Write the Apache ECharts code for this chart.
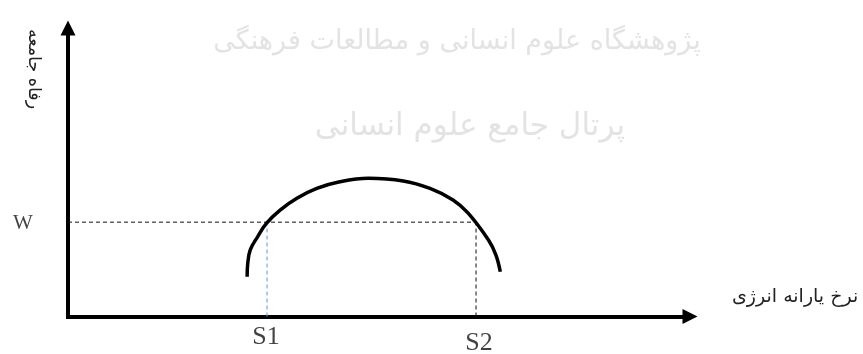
<!DOCTYPE html>
<html>
<head>
<meta charset="utf-8">
<title>رفاه جامعه و نرخ یارانه انرژی</title>
<script src="https://cdn.jsdelivr.net/npm/echarts@6/dist/echarts.min.js"></script>
<style>
  html, body { margin: 0; padding: 0; background: #fff; }
  #main { width: 863px; height: 354px; }
</style>
</head>
<body>
<div id="main"></div>
<script>
// curve of welfare against energy subsidy rate
var curveX = [28.8, 28.9, 29.3, 30.5, 31.9, 34.1, 36.8, 40.0, 43.7, 48.3, 53.9, 58.2, 61.9, 64.3, 67.6, 68.8, 69.5];
var curveY = [13.8, 18.4, 23.1, 27.7, 32.3, 36.9, 41.0, 44.4, 46.7, 47.9, 47.0, 44.4, 40.4, 35.9, 26.5, 21.3, 15.5];

// marked levels
var wLevel = 32.7;
var s1 = 32.0;
var s2 = 65.6;
var pointNames = ['W', 'S1', 'S2'];

var xName = 'نرخ یارانه انرژی';
var yName = 'رفاه جامعه';
var watermark = ['پژوهشگاه علوم انسانی و مطالعات فرهنگی', 'پرتال جامع علوم انسانی'];

var chart = echarts.init(document.getElementById('main'), null, { renderer: 'canvas' });

var curveData = curveX.map(function (x, i) { return [x, curveY[i]]; });
var labelData = [
  { value: [0, wLevel, pointNames[0]], label: { offset: [-45, 1], fontSize: 21 } },
  { value: [s1, 0, pointNames[1]], label: { offset: [-1, 21] } },
  { value: [s2, 0, pointNames[2]], label: { offset: [3, 26.5] } }
];

var option = {
  backgroundColor: '#fff',
  animation: false,
  grid: {
    left: 68,
    top: 28,
    width: 622,
    height: 288.5
  },
  xAxis: {
    type: 'value',
    min: 0,
    max: 100,
    name: xName,
    nameLocation: 'end',
    nameGap: 42,
    nameTextStyle: {
      fontFamily: 'DejaVu Sans',
      fontSize: 19,
      color: '#222',
      align: 'left',
      verticalAlign: 'bottom',
      padding: [0, 0, 10, 0]
    },
    axisLine: {
      show: true,
      symbol: ['none', 'triangle'],
      symbolSize: [15, 15],
      lineStyle: { color: '#000', width: 4, cap: 'square' }
    },
    axisTick: { show: false },
    axisLabel: { show: false },
    splitLine: { show: false }
  },
  yAxis: {
    type: 'value',
    min: 0,
    max: 100,
    axisLine: {
      show: true,
      symbol: ['none', 'triangle'],
      symbolSize: [15, 15],
      lineStyle: { color: '#000', width: 4, cap: 'square' }
    },
    axisTick: { show: false },
    axisLabel: { show: false },
    splitLine: { show: false }
  },
  graphic: [
    // faint watermark of the source
    {
      type: 'text', x: 457, y: 42, z: -10, silent: true,
      style: { text: watermark[0], fontFamily: 'DejaVu Sans', fontSize: 27, fill: '#e3e3e3', align: 'center', verticalAlign: 'middle' }
    },
    {
      type: 'text', x: 470, y: 127, z: -10, silent: true,
      style: { text: watermark[1], fontFamily: 'DejaVu Sans', fontSize: 31, fill: '#e3e3e3', align: 'center', verticalAlign: 'middle' }
    },
    // vertical axis title
    {
      type: 'text', x: 34, y: 69, rotation: -Math.PI / 2,
      style: { text: yName, fontFamily: 'DejaVu Sans', fontSize: 17.5, fill: '#222', align: 'center', verticalAlign: 'middle' }
    }
  ],
  series: [
    {
      // W dashed level
      type: 'line',
      data: [[0, wLevel], [s2, wLevel]],
      symbol: 'none',
      lineStyle: { color: '#111', width: 1, type: [4, 3] },
      z: 2
    },
    {
      type: 'line',
      data: [[s1, 0], [s1, wLevel]],
      symbol: 'none',
      lineStyle: { color: '#5b9bd5', width: 1, type: [4, 3] },
      z: 2
    },
    {
      type: 'line',
      data: [[s2, 0], [s2, wLevel]],
      symbol: 'none',
      lineStyle: { color: '#111', width: 1, type: [4, 3] },
      z: 2
    },
    {
      // the arch
      type: 'line',
      data: curveData,
      smooth: 0.4,
      symbol: 'none',
      lineStyle: { color: '#000', width: 3.5 },
      z: 3
    },
    {
      // W, S1, S2 labels
      type: 'scatter',
      data: labelData,
      symbolSize: 0,
      label: {
        show: true,
        position: 'inside',
        formatter: function (p) { return p.value[2]; },
        fontFamily: 'Liberation Serif',
        fontSize: 26,
        color: '#111'
      },
      z: 4
    }
  ]
};

chart.setOption(option);
</script>
</body>
</html>
